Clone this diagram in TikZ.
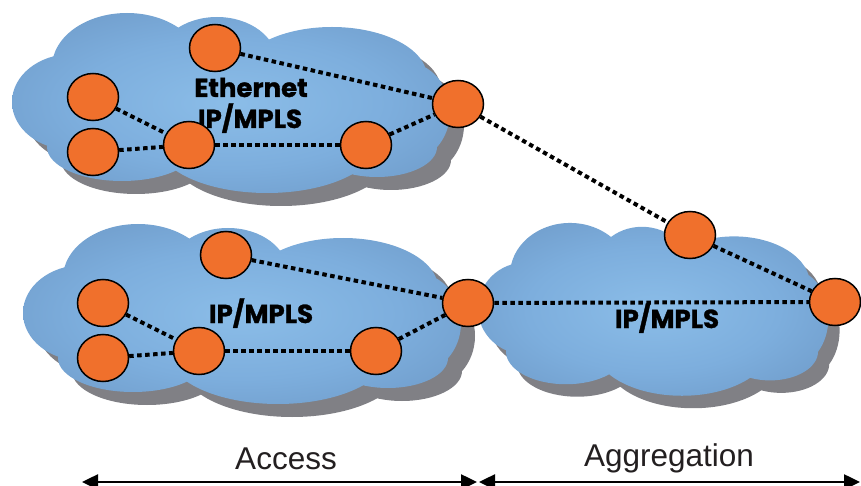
\documentclass[tikz,border=0pt]{standalone}
\usepackage{fontspec}
\usetikzlibrary{shapes.geometric,arrows.meta}
\newfontfamily\labelfont{Liberation Sans}
\newfontfamily\netfont{Poppins}[BoldFeatures={FakeBold=1.2}]
\definecolor{cloudin}{HTML}{8BBDE8}
\definecolor{cloudmid}{HTML}{7DAEDD}
\definecolor{cloudout}{HTML}{5F86B3}
\definecolor{shadowc}{HTML}{808085}
\definecolor{nodeorange}{HTML}{F0702C}
\definecolor{textdark}{HTML}{231F20}
\pgfdeclareradialshading{cloudshade}{\pgfpoint{0bp}{0bp}}{color(0bp)=(cloudin); color(18bp)=(cloudmid); color(50bp)=(cloudout); color(72bp)=(cloudout)}
\pgfdeclarelayer{cloudlayer}
\pgfdeclarelayer{linklayer}
\pgfsetlayers{cloudlayer,linklayer,main}
\def\cloudellipses{(60,90) ellipse [x radius=60, y radius=48]
  (115,55) ellipse [x radius=75, y radius=54]
  (205,50) ellipse [x radius=60, y radius=45]
  (320,65) ellipse [x radius=95, y radius=50]
  (393,100) ellipse [x radius=45, y radius=50]
  (365,135) ellipse [x radius=60, y radius=30]
  (255,130) ellipse [x radius=110, y radius=51]
  (110,135) ellipse [x radius=75, y radius=34]
  (220,95) ellipse [x radius=170, y radius=60]}
\tikzset{
  cloud/.pic={
    \fill[shadowc, shift={(14,13)}] \cloudellipses;
    \shade[shading=cloudshade] \cloudellipses;
  },
  router/.style={ellipse, draw=black, line width=1.5pt, fill=nodeorange,
    minimum width=51pt, minimum height=47pt, inner sep=0pt},
  link/.style={line width=4pt, dash pattern=on 4.5pt off 3.5pt, black},
  nettext/.style={font=\netfont\bfseries\fontsize{26}{30}\selectfont, anchor=base, inner sep=0pt, text=black},
  spantext/.style={font=\labelfont\fontsize{31.5}{36}\selectfont, anchor=base, inner sep=0pt, text=textdark},
  span/.style={line width=2.5pt, black, {Triangle[length=16pt,width=15pt]}-{Triangle[length=16pt,width=15pt]}}
}
\begin{document}
\begin{tikzpicture}[x=1pt,y=-1pt]
\useasboundingbox (0,0) rectangle (861,486);
\begin{pgfonlayer}{cloudlayer}
  \pic at (12,12) {cloud};
  \pic at (23,223) {cloud};
  \pic[xscale=0.8, yscale=0.96] at (478,222) {cloud};
\end{pgfonlayer}
% labels
\begin{pgfonlayer}{linklayer}
  \node[nettext] (teth) at (251,97) {Ethernet};
  \node[nettext] (tmpls1) at (250,128) {IP/MPLS};
  \node[nettext] (tmpls2) at (261,323) {IP/MPLS};
  \node[nettext] (tmpls3) at (667,328) {IP/MPLS};
\end{pgfonlayer}
% routers
\node[router] (a1) at (215,48) {};
\node[router] (a2) at (93,97) {};
\node[router] (a3) at (93,152) {};
\node[router] (a4) at (189,145) {};
\node[router] (a5) at (366,145) {};
\node[router] (a6) at (458,104) {};
\node[router] (b1) at (690,235) {};
\node[router] (c1) at (835,302) {};
\node[router] (d1) at (226,255) {};
\node[router] (d2) at (103,303) {};
\node[router] (d3) at (103,358) {};
\node[router] (d4) at (199,351) {};
\node[router] (d5) at (376,351) {};
\node[router] (d6) at (468,303) {};
\begin{pgfonlayer}{linklayer}
  \draw[link] (a1) -- (a6);
  \draw[link] (a2) -- (a4);
  \draw[link] (a3) -- (a4);
  \draw[link] (a4) -- (a5);
  \draw[link] (a5) -- (a6);
  \draw[link] (a6) -- (b1);
  \draw[link] (b1) -- (c1);
  \draw[link] (d1) -- (d6);
  \draw[link] (d2) -- (d4);
  \draw[link] (d3) -- (d4);
  \draw[link] (d4) -- (d5);
  \draw[link] (d5) -- (d6);
  \draw[link] (d6) -- (c1);
\end{pgfonlayer}
% span arrows
\coordinate (accL) at (82,482);
\coordinate (accR) at (477,482);
\coordinate (aggL) at (479,482);
\coordinate (aggR) at (860,482);
\draw[span] (accL) -- (accR);
\draw[span] (aggL) -- (aggR);
\node[spantext] (access) at (286,469) {Access};
\node[spantext] (aggr) at (669,466) {Aggregation};
\end{tikzpicture}
\end{document}
